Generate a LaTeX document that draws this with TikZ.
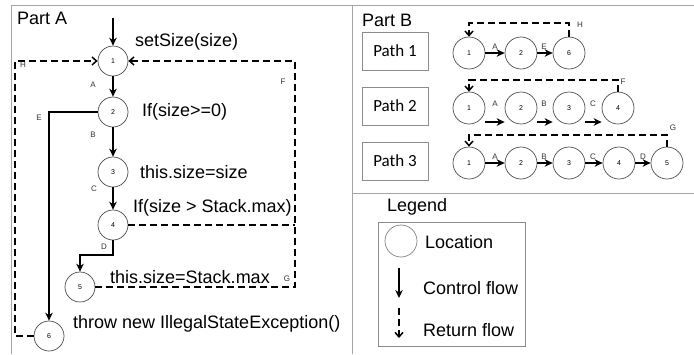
\documentclass[tikz,border=0pt]{standalone}
\usepackage{fontspec}
\setmainfont{Liberation Sans}
\newfontfamily\calfont{Carlito}
\usetikzlibrary{arrows.meta}
\begin{document}
\begin{tikzpicture}[x=1pt,y=-1pt,
  loc/.style={circle,draw=black!70,line width=0.7pt,minimum size=30pt,inner sep=0pt,font=\fontsize{7}{8}\selectfont},
  bloc/.style={loc,minimum size=32pt},
  ctrl/.style={line width=2pt,-{Stealth[length=8pt,width=7.5pt]}},
  ret/.style={line width=2pt,dash pattern=on 7pt off 4pt,-{Straight Barb[length=4.5pt,width=8pt,line width=1.5pt]}},
  retline/.style={line width=2pt,dash pattern=on 7pt off 4pt},
  lbl/.style={font=\fontsize{8}{9}\selectfont,inner sep=0pt,text=black!80},
  code/.style={font=\fontsize{18}{20}\selectfont,anchor=west,inner sep=0pt},
  frame/.style={draw=black!35,line width=0.8pt},
  pathbox/.style={draw=black!45,line width=0.8pt,minimum width=66pt,minimum height=38pt,inner sep=0pt,font=\calfont\fontsize{17}{19}\selectfont}
]
\useasboundingbox (0,0) rectangle (694,354);
% frames
\draw[frame] (11,354) -- (11,5) -- (694,5);
\draw[frame] (352,5) -- (352,354);
\draw[frame] (352,193) -- (694,193);

% ---------------- Part A ----------------
\node[code] (partA) at (17,18) {Part A};
\coordinate (in) at (113,18);
\node[loc] (a1) at (113,61) {1};
\node[loc] (a2) at (113,112) {2};
\node[loc] (a3) at (113,172) {3};
\node[loc] (a4) at (113,225) {4};
\node[loc] (a5) at (80,287) {5};
\node[loc] (a6) at (49,336) {6};

\draw[ctrl] (in) -- (a1);
\draw[ctrl] (a1) -- (a2);
\draw[ctrl] (a2) -- (a3);
\draw[ctrl] (a3) -- (a4);
\coordinate (d1) at (113,255);
\coordinate (d2) at (80,255);
\draw[ctrl] (a4) -- (d1) -- (d2) -- (a5);
\draw[ctrl] (a2) -| (a6);

% return flows
\coordinate (f1) at (295,61);
\coordinate (f2) at (295,287);
\coordinate (f3) at (295,225);
\draw[ret] (a5) -- (f2) -- (f1) -- (a1);
\draw[retline] (a4) -- (f3);
\coordinate (h1) at (15,336);
\coordinate (h2) at (15,61);
\draw[ret] (a6) -- (h1) -- (h2) -- (a1);

% texts
\node[code] (t0) at (135,42) {setSize(size)};
\node[code] (t2) at (142,112) {If(size>=0)};
\node[code] (t3) at (140,172) {this.size=size};
\node[code] (t4) at (133,208) {If(size > Stack.max)};
\node[code] (t5) at (110,277) {this.size=Stack.max};
\node[code] (t6) at (73,324) {throw new IllegalStateException()};

% edge labels
\node[lbl] (lA) at (93,85) {A};
\node[lbl] (lB) at (93,135) {B};
\node[lbl] (lC) at (94,189) {C};
\node[lbl] (lD) at (104,247) {D};
\node[lbl] (lE) at (39,118) {E};
\node[lbl] (lF) at (283,82) {F};
\node[lbl] (lG) at (287,279) {G};
\node[lbl] (lH) at (23,65) {H};

% ---------------- Part B ----------------
\node[code] (partB) at (362,20) {Part B};
\node[pathbox] (p1) at (395,51) {Path 1};
\node[pathbox] (p2) at (395,106) {Path 2};
\node[pathbox] (p3) at (395,161) {Path 3};

% path 1
\node[bloc] (b11) at (469,53) {1};
\node[bloc] (b12) at (521,53) {2};
\node[bloc] (b16) at (569,53) {6};
\draw[ctrl] (b11) -- (b12);
\draw[ctrl] (b12) -- (b16);
\node[lbl] (q1A) at (495,47) {A};
\node[lbl] (q1E) at (544,47) {E};
\coordinate (q1a) at (469,23);
\coordinate (q1b) at (569,23);
\draw[ret] (b16) -- (q1b) -- (q1a) -- (b11);
\node[lbl] (q1H) at (580,25) {H};

% path 2
\node[bloc] (b21) at (469,108) {1};
\node[bloc] (b22) at (521,108) {2};
\node[bloc] (b23) at (569,108) {3};
\node[bloc] (b24) at (618,108) {4};
\draw[ctrl] ([yshift=-14pt]b21.east) -- ([yshift=-14pt]b22.west);
\draw[ctrl] ([yshift=-14pt]b22.east) -- ([yshift=-14pt]b23.west);
\draw[ctrl] ([yshift=-14pt]b23.east) -- ([yshift=-14pt]b24.west);
\node[lbl] (q2A) at (495,104) {A};
\node[lbl] (q2B) at (544,104) {B};
\node[lbl] (q2C) at (593,104) {C};
\coordinate (q2a) at (469,80);
\coordinate (q2b) at (618,80);
\draw[ret] (b24) -- (q2b) -- (q2a) -- (b21);
\node[lbl] (q2F) at (623,82) {F};

% path 3
\node[bloc] (b31) at (469,163) {1};
\node[bloc] (b32) at (521,163) {2};
\node[bloc] (b33) at (569,163) {3};
\node[bloc] (b34) at (619,163) {4};
\node[bloc] (b35) at (667,163) {5};
\draw[ctrl] (b31) -- (b32);
\draw[ctrl] (b32) -- (b33);
\draw[ctrl] (b33) -- (b34);
\draw[ctrl] (b34) -- (b35);
\node[lbl] (q3A) at (495,157) {A};
\node[lbl] (q3B) at (544,157) {B};
\node[lbl] (q3C) at (593,157) {C};
\node[lbl] (q3D) at (643,157) {D};
\coordinate (q3a) at (469,135);
\coordinate (q3b) at (667,135);
\draw[ret] (b35) -- (q3b) -- (q3a) -- (b31);
\node[lbl] (q3G) at (673,128) {G};

% ---------------- Legend ----------------
\node[code] (leg) at (387,207) {Legend};
\node[draw=black!45,line width=0.8pt,minimum width=147pt,minimum height=124pt,inner sep=0pt] (legbox) at (451.5,284) {};
\node[loc,minimum size=32pt,draw=black!50] (lloc) at (401,241) {};
\node[code] (tloc) at (425,242) {Location};
\coordinate (lc1) at (399,268);
\coordinate (lc2) at (399,298);
\draw[ctrl] (lc1) -- (lc2);
\node[code] (tctrl) at (423,288) {Control flow};
\coordinate (lr1) at (399,308);
\coordinate (lr2) at (399,338);
\draw[ret] (lr1) -- (lr2);
\node[code] (tret) at (423,330) {Return flow};
\end{tikzpicture}
\end{document}
